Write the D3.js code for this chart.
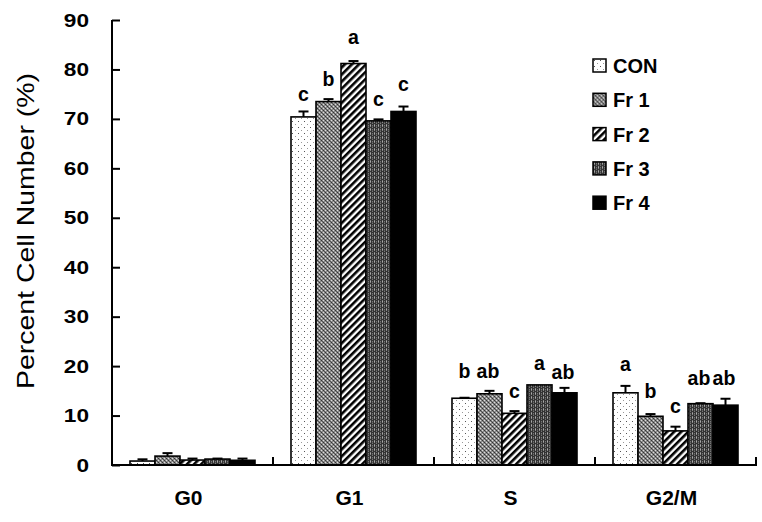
<!DOCTYPE html>
<html><head><meta charset="utf-8">
<script src="https://cdn.jsdelivr.net/npm/d3@7"></script>
<style>body{margin:0;background:#fff}svg{display:block}text{font-family:Arial,"Liberation Sans",sans-serif}</style>
</head><body>
<svg id="c" width="762" height="522"></svg>
<script>
const categories = ["G0", "G1", "S", "G2/M"];
const seriesNames = ["CON", "Fr 1", "Fr 2", "Fr 3", "Fr 4"];
const CON  = [0.8, 70.4, 13.5, 14.6];
const Fr1  = [1.8, 73.5, 14.4, 9.85];
const Fr2  = [1.0, 81.2, 10.45, 6.9];
const Fr3  = [1.2, 69.6, 16.2, 12.4];
const Fr4  = [0.95, 71.5, 14.6, 12.1];
const errCON = [0.35, 1.1, 0.1, 1.4];
const errFr1 = [0.6, 0.5, 0.6, 0.45];
const errFr2 = [0.3, 0.5, 0.45, 0.85];
const errFr3 = [0.1, 0.3, 0.0, 0.1];
const errFr4 = [0.35, 1.0, 1.0, 1.3];
const lettersCON = ["", "c", "b", "a"];
const lettersFr1 = ["", "b", "ab", "b"];
const lettersFr2 = ["", "a", "c", "c"];
const lettersFr3 = ["", "c", "a", "ab"];
const lettersFr4 = ["", "c", "ab", "ab"];
const letterYCON = [0, 73.6, 17.6, 19.1];
const letterYFr1 = [0, 76.7, 17.6, 13.6];
const letterYFr2 = [0, 85.2, 13.6, 10.5];
const letterYFr3 = [0, 72.6, 19.2, 16.2];
const letterYFr4 = [0, 75.6, 17.4, 16.2];
const yTicks = [0, 10, 20, 30, 40, 50, 60, 70, 80, 90];

const values = [CON, Fr1, Fr2, Fr3, Fr4];
const errs = [errCON, errFr1, errFr2, errFr3, errFr4];
const letters = [lettersCON, lettersFr1, lettersFr2, lettersFr3, lettersFr4];
const letterY = [letterYCON, letterYFr1, letterYFr2, letterYFr3, letterYFr4];

const svg = d3.select("#c");
const defs = svg.append("defs");

// patterns
const pCon = defs.append("pattern").attr("id","p0").attr("patternUnits","userSpaceOnUse").attr("width",6).attr("height",6);
pCon.append("rect").attr("width",6).attr("height",6).attr("fill","#fff");
pCon.append("rect").attr("x",1).attr("y",1).attr("width",1).attr("height",1).attr("fill","#555");
pCon.append("rect").attr("x",4).attr("y",4).attr("width",1).attr("height",1).attr("fill","#999");

const p1 = defs.append("pattern").attr("id","p1").attr("patternUnits","userSpaceOnUse").attr("width",4).attr("height",4);
p1.append("rect").attr("width",4).attr("height",4).attr("fill","#8c8c8c");
[[0,0,"#333"],[2,2,"#333"],[2,0,"#ddd"],[0,2,"#ddd"],[1,1,"#555"],[3,3,"#555"]].forEach(d=>
  p1.append("rect").attr("x",d[0]).attr("y",d[1]).attr("width",1).attr("height",1).attr("fill",d[2]));

const p2 = defs.append("pattern").attr("id","p2").attr("patternUnits","userSpaceOnUse").attr("width",5).attr("height",5)
  .attr("patternTransform","rotate(45)");
p2.append("rect").attr("width",5).attr("height",5).attr("fill","#fff");
p2.append("rect").attr("width",2.6).attr("height",5).attr("fill","#000");

const p3 = defs.append("pattern").attr("id","p3").attr("patternUnits","userSpaceOnUse").attr("width",4).attr("height",4);
p3.append("rect").attr("width",4).attr("height",4).attr("fill","#333");
[[1,0,"#888"],[1,2,"#888"],[3,1,"#777"],[3,3,"#777"],[1,1,"#aaa"],[3,2,"#555"]].forEach(d=>
  p3.append("rect").attr("x",d[0]).attr("y",d[1]).attr("width",1).attr("height",1).attr("fill",d[2]));

const fills = ["url(#p0)","url(#p1)","url(#p2)","url(#p3)","#000"];

const x0 = d3.scaleBand().domain(categories).range([112, 756]);
const x1 = d3.scaleBand().domain(seriesNames).range([18, 143]);
const y = d3.scaleLinear().domain([0, 90]).range([465, 20]);

// bars
categories.forEach((cat, ci) => {
  const g = svg.append("g").attr("transform", `translate(${x0(cat)},0)`);
  seriesNames.forEach((s, si) => {
    const v = values[si][ci], e = errs[si][ci];
    const bx = x1(s), bw = x1.bandwidth();
    const cx = bx + bw / 2;
    if (e > 0) {
      g.append("line").attr("x1",cx).attr("x2",cx).attr("y1",y(v)).attr("y2",y(v+e)).attr("stroke","#000").attr("stroke-width",2);
      g.append("line").attr("x1",cx-5).attr("x2",cx+5).attr("y1",y(v+e)).attr("y2",y(v+e)).attr("stroke","#000").attr("stroke-width",2);
    }
    g.append("rect").attr("x",bx).attr("y",y(v)).attr("width",bw).attr("height",y(0)-y(v))
      .attr("fill",fills[si]).attr("stroke","#000").attr("stroke-width",1.6);
    if (letters[si][ci]) {
      const t = letters[si][ci];
      g.append("text").attr("x",cx - (t.length > 1 ? 1.5 : 0)).attr("y",y(letterY[si][ci])).attr("text-anchor","middle")
        .attr("font-size",19.5).attr("font-weight","bold").text(t);
    }
  });
});

// axes
const yAxis = d3.axisLeft(y).tickValues(yTicks).tickSize(-8).tickPadding(30);
const ya = svg.append("g").attr("transform","translate(112,0)").call(yAxis);
ya.select(".domain").attr("stroke-width",2).attr("d","M0,20V465");
ya.selectAll(".tick line").attr("stroke-width",2);
ya.selectAll(".tick text").attr("font-size",19).attr("font-weight","bold").attr("font-family","Arial, 'Liberation Sans', sans-serif").attr("fill","#000")
  .attr("text-anchor","end").attr("x",-23)
  .attr("textLength", d => String(d).length * 12.6).attr("lengthAdjust","spacingAndGlyphs");

const xAxis = d3.axisBottom(x0).tickSize(0).tickPadding(25);
const xa = svg.append("g").attr("transform","translate(0,465)").call(xAxis);
xa.select(".domain").attr("stroke-width",2).attr("d","M111,0H757");
xa.selectAll(".tick text").attr("font-size",21).attr("font-weight","bold").attr("font-family","Arial, 'Liberation Sans', sans-serif").attr("fill","#000").attr("dy","0.71em").attr("x",-4);
categories.slice(1).forEach(c => {
  svg.append("line").attr("x1",x0(c)).attr("x2",x0(c)).attr("y1",465).attr("y2",457).attr("stroke","#000").attr("stroke-width",2);
});
svg.append("line").attr("x1",756).attr("x2",756).attr("y1",465).attr("y2",457).attr("stroke","#000").attr("stroke-width",2);

// y title
svg.append("text").attr("transform","translate(34,231) rotate(-90)").attr("text-anchor","middle")
  .attr("font-size",24).attr("textLength",316).attr("lengthAdjust","spacingAndGlyphs").text("Percent Cell Number (%)");

// legend
const lg = svg.append("g").attr("transform","translate(593,59)");
seriesNames.forEach((s, i) => {
  const row = lg.append("g").attr("transform",`translate(0,${i*34.3})`);
  row.append("rect").attr("width",13).attr("height",13).attr("fill",fills[i]).attr("stroke","#000").attr("stroke-width",1.5);
  row.append("text").attr("x",20).attr("y",14).attr("font-size",20).attr("font-weight","bold").text(s);
});
</script>
</body></html>
